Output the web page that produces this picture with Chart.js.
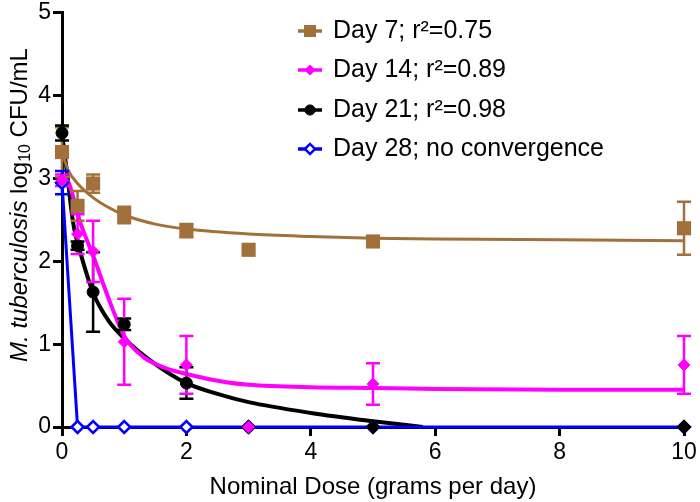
<!DOCTYPE html>
<html>
<head>
<meta charset="utf-8">
<script src="https://cdn.jsdelivr.net/npm/chart.js@4.4.1/dist/chart.umd.min.js"></script>
<style>
  body { margin: 0; background: #fff; }
  canvas { display: block; }
</style>
</head>
<body>
<canvas id="doseChart" width="700" height="502"></canvas>
<script>
// doses (grams per day)
const doses = [0, 0.25, 0.5, 1, 2, 3, 5, 10];

// mean log10 CFU/mL and error (+/-) per day
const day7 = [3.32, 2.67, 2.94, 2.56, 2.37, 2.14, 2.24, 2.40];
const day7Err = [0.30, 0.18, 0.11, 0.10, 0.08, 0, 0.05, 0.32];
const day14 = [2.98, 2.33, 2.12, 1.03, 0.75, 0, 0.52, 0.75];
const day14Err = [0.07, 0.24, 0.37, 0.52, 0.35, 0, 0.25, 0.35];
const day21 = [3.55, 2.19, 1.63, 1.24, 0.53, 0, 0, 0];
const day21Err = [0.09, 0.05, 0.48, 0.07, 0.19, 0, 0, 0];
const day28 = [2.95, 0, 0, 0, 0, 0, 0, 0];
const day28Err = [0.14, 0, 0, 0, 0, 0, 0, 0];

// fitted curves
const fit7X = [0, 0.1, 0.25, 0.5, 0.75, 1, 1.5, 2, 3, 4, 5, 6, 8, 10];
const fit7Y = [3.32, 3.1, 2.94, 2.77, 2.65, 2.56, 2.45, 2.39, 2.33, 2.30, 2.28, 2.27, 2.26, 2.25];
const fit14X = [0, 0.1, 0.18, 0.29, 0.5, 0.77, 1, 1.3, 1.6, 2, 2.64, 3, 4, 5, 6, 8, 10];
const fit14Y = [3.0, 2.96, 2.78, 2.48, 2.07, 1.51, 1.1, 0.85, 0.73, 0.64, 0.54, 0.51, 0.48, 0.47, 0.46, 0.45, 0.45];
const fit21X = [0, 0.05, 0.1, 0.15, 0.2, 0.29, 0.5, 0.75, 1, 1.5, 2, 2.5, 3, 4, 5, 5.8];
const fit21Y = [3.55, 3.25, 2.95, 2.62, 2.38, 2.12, 1.62, 1.28, 1.07, 0.76, 0.53, 0.40, 0.30, 0.17, 0.07, 0];

const seriesLabels = ['Day 7; r\u00B2=0.75', 'Day 14; r\u00B2=0.89', 'Day 21; r\u00B2=0.98', 'Day 28; no convergence'];
const xTicks = [0, 2, 4, 6, 8, 10];
const yTicks = [0, 1, 2, 3, 4, 5];

const BROWN = '#A2703A';
const MAGENTA = '#FF00FF';
const BLACK = '#000000';
const BLUE = '#0000FF';

function pts(xs, ys) {
  return xs.map((x, i) => ({ x: x, y: ys[i] }));
}

const errorSets = [
  { ys: day7, err: day7Err, color: BROWN },
  { ys: day21, err: day21Err, color: BLACK },
  { ys: day14, err: day14Err, color: MAGENTA },
  { ys: day28, err: day28Err, color: BLUE }
];

const markers = [
  { pointStyle: 'rect', radius: 10, backgroundColor: BROWN, borderColor: BROWN, borderWidth: 0 },
  { pointStyle: 'rectRot', radius: 6, backgroundColor: MAGENTA, borderColor: MAGENTA, borderWidth: 1 },
  { pointStyle: 'circle', radius: 6, backgroundColor: BLACK, borderColor: BLACK, borderWidth: 1 },
  { pointStyle: 'rectRot', radius: 6, backgroundColor: '#fff', borderColor: BLUE, borderWidth: 2.5 }
];
const lineColors = [BROWN, MAGENTA, BLACK, BLUE];

// error bars go between the fitted curves and the markers
const errorBars = {
  id: 'errorBars',
  afterDatasetDraw(chart, args) {
    if (args.index !== 4) return;
    const ctx = chart.ctx, xs = chart.scales.x, ys = chart.scales.y;
    ctx.save();
    ctx.lineWidth = 2.5;
    errorSets.forEach(s => {
      ctx.strokeStyle = s.color;
      doses.forEach((d, i) => {
        if (!s.err[i]) return;
        const px = xs.getPixelForValue(d);
        const top = ys.getPixelForValue(s.ys[i] + s.err[i]);
        const bot = ys.getPixelForValue(s.ys[i] - s.err[i]);
        ctx.beginPath();
        ctx.moveTo(px, top); ctx.lineTo(px, bot);
        ctx.moveTo(px - 7, top); ctx.lineTo(px + 7, top);
        ctx.moveTo(px - 7, bot); ctx.lineTo(px + 7, bot);
        ctx.stroke();
      });
    });
    ctx.restore();
  }
};

// legend in the top right and the mixed-style y title
const decorations = {
  id: 'decorations',
  afterDraw(chart) {
    const ctx = chart.ctx;
    const rows = [31, 70, 110, 149];
    ctx.save();
    seriesLabels.forEach((label, i) => {
      const y = rows[i];
      ctx.strokeStyle = lineColors[i];
      ctx.lineWidth = 3.5;
      ctx.beginPath();
      ctx.moveTo(298, y); ctx.lineTo(322, y);
      ctx.stroke();
      const m = markers[i];
      ctx.fillStyle = m.backgroundColor;
      ctx.strokeStyle = m.borderColor;
      ctx.lineWidth = m.borderWidth;
      Chart.helpers.drawPoint(ctx, {
        pointStyle: m.pointStyle, radius: m.radius * 0.85, rotation: 0, borderWidth: m.borderWidth
      }, 310, y);
      ctx.fillStyle = '#000';
      ctx.font = '25px "Liberation Sans", Arial, sans-serif';
      ctx.textBaseline = 'middle';
      ctx.textAlign = 'left';
      ctx.fillText(label, 333, y);
    });

    // y axis title
    const parts = [
      { t: 'M. tuberculosis', f: 'italic 24px "Liberation Sans", Arial, sans-serif', dy: 0 },
      { t: ' log', f: '24px "Liberation Sans", Arial, sans-serif', dy: 0 },
      { t: '10', f: '16px "Liberation Sans", Arial, sans-serif', dy: 6 },
      { t: ' CFU/mL', f: '24px "Liberation Sans", Arial, sans-serif', dy: 0 }
    ];
    let total = 0;
    parts.forEach(p => { ctx.font = p.f; p.w = ctx.measureText(p.t).width; total += p.w; });
    ctx.translate(20, 205);
    ctx.rotate(-Math.PI / 2);
    ctx.fillStyle = '#000';
    ctx.textBaseline = 'middle';
    let x = -total / 2;
    parts.forEach(p => {
      ctx.font = p.f;
      ctx.fillText(p.t, x, p.dy);
      x += p.w;
    });
    ctx.restore();
  }
};

function pointDataset(label, ys, m, order, extra) {
  return Object.assign({
    label: label,
    data: pts(doses, ys),
    showLine: false,
    pointStyle: m.pointStyle,
    pointRadius: m.radius,
    pointBackgroundColor: m.backgroundColor,
    pointBorderColor: m.borderColor,
    pointBorderWidth: m.borderWidth,
    order: order,
    clip: false
  }, extra || {});
}

function fitDataset(xs, ys, color, width) {
  return {
    label: 'fit',
    data: pts(xs, ys),
    showLine: true,
    pointRadius: 0,
    borderColor: color,
    borderWidth: width,
    cubicInterpolationMode: 'monotone',
    order: 10,
    clip: false
  };
}

const ctx = document.getElementById('doseChart').getContext('2d');
new Chart(ctx, {
  type: 'scatter',
  data: {
    datasets: [
      pointDataset(seriesLabels[0], day7, markers[0], 3),
      pointDataset(seriesLabels[1], day14, markers[1], 1, {
        pointBorderColor: c => (c.raw && c.raw.y === 0 ? '#202060' : MAGENTA),
        pointRadius: c => (c.raw && c.raw.y === 0 ? 7 : 6)
      }),
      pointDataset(seriesLabels[2], day21, markers[2], 2, {
        pointStyle: c => (c.raw && c.raw.y === 0 ? 'rectRot' : 'circle'),
        pointRadius: c => (c.raw && c.raw.y === 0 ? 7 : 6)
      }),
      pointDataset(seriesLabels[3], day28, markers[3], 4, {
        showLine: true, borderColor: BLUE, borderWidth: 3, tension: 0
      }),
      fitDataset(fit7X, fit7Y, BROWN, 3),
      fitDataset(fit14X, fit14Y, MAGENTA, 4),
      fitDataset(fit21X, fit21Y, BLACK, 4)
    ]
  },
  options: {
    responsive: false,
    animation: false,
    layout: { padding: { top: 11, right: 16, left: 0, bottom: 0 } },
    plugins: {
      legend: { display: false },
      tooltip: { enabled: false }
    },
    scales: {
      x: {
        type: 'linear',
        min: 0,
        max: 10,
        afterBuildTicks: s => { s.ticks = xTicks.map(v => ({ value: v })); },
        afterFit: s => { s.height = 75; },
        ticks: {
          color: '#000',
          padding: 3,
          font: { size: 23, family: '"Liberation Sans", Arial, sans-serif' }
        },
        grid: { drawOnChartArea: false, tickLength: 9, tickWidth: 3, tickColor: '#000' },
        border: { color: '#000', width: 3 },
        title: {
          display: true,
          text: 'Nominal Dose (grams per day)',
          color: '#000',
          font: { size: 24, family: '"Liberation Sans", Arial, sans-serif' },
          padding: { top: 0, bottom: 0 }
        }
      },
      y: {
        type: 'linear',
        min: 0,
        max: 5,
        afterBuildTicks: s => { s.ticks = yTicks.map(v => ({ value: v })); },
        afterFit: s => { s.width = 62; },
        ticks: {
          color: '#000',
          padding: 2,
          font: { size: 23, lineHeight: 0.95, family: '"Liberation Sans", Arial, sans-serif' }
        },
        grid: { drawOnChartArea: false, tickLength: 9, tickWidth: 3, tickColor: '#000' },
        border: { color: '#000', width: 3 }
      }
    }
  },
  plugins: [errorBars, decorations]
});
</script>
</body>
</html>
